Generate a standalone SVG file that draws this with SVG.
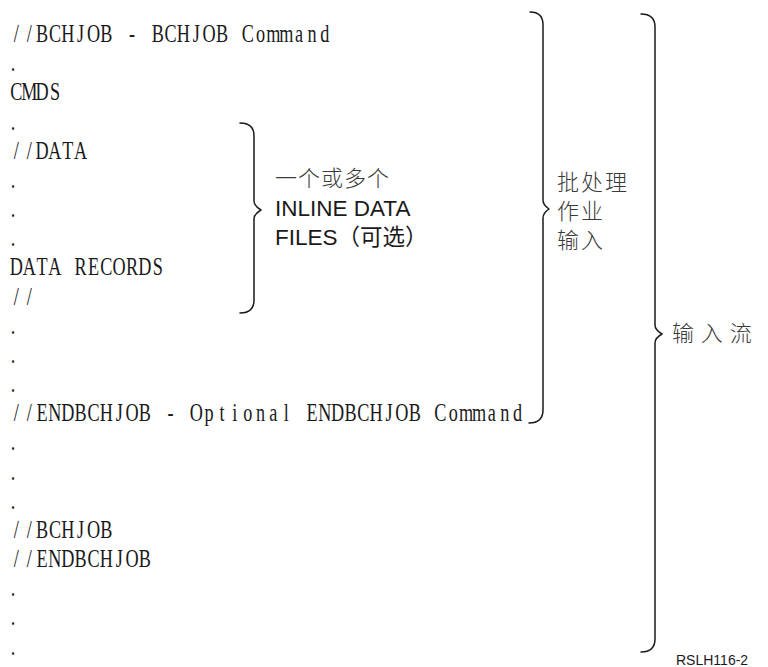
<svg xmlns="http://www.w3.org/2000/svg" width="768" height="667" viewBox="0 0 768 667">
  <style>
    .m { font-family: "Liberation Serif", "DejaVu Serif", serif; font-size: 26px; fill: #1a1a1a; text-anchor: middle; }
    .cn { font-family: "Noto Sans CJK SC", "Liberation Sans", sans-serif; font-size: 22px; font-weight: 300; fill: #3a3a3a; }
    .lat { font-family: "Liberation Sans", "Noto Sans CJK SC", sans-serif; font-size: 22.5px; fill: #1a1a1a; }
    .brace { fill: none; stroke: #1a1a1a; stroke-width: 1.5; stroke-linecap: round; stroke-linejoin: round; }
    .code { font-family: "Liberation Sans", "Noto Sans CJK SC", sans-serif; font-size: 14px; fill: #1a1a1a; }
  </style>
  <rect width="768" height="667" fill="#ffffff"/>

  <!-- job stream listing: fixed-pitch cells, glyphs narrowed to half width -->
  <g id="listing" transform="scale(0.7 1)">
    <text class="m" y="42" x="23.43 41.79 60.14 78.50 96.86 115.21 133.57 151.93 170.29 188.64 207.00 225.36 243.71 262.07 280.43 298.79 317.14 335.50 353.86 372.21 390.57 408.93 427.29 445.64 464.00">//BCHJOB - BCHJOB Command</text>
    <text class="m" y="71.17" x="18.57">.</text>
    <text class="m" y="100.34" x="23.43 41.79 60.14 78.50">CMDS</text>
    <text class="m" y="129.51" x="18.57">.</text>
    <text class="m" y="158.68" x="23.43 41.79 60.14 78.50 96.86 115.21">//DATA</text>
    <text class="m" y="187.85" x="18.57">.</text>
    <text class="m" y="217.02" x="18.57">.</text>
    <text class="m" y="246.19" x="18.57">.</text>
    <text class="m" y="275.36" x="23.43 41.79 60.14 78.50 96.86 115.21 133.57 151.93 170.29 188.64 207.00 225.36">DATA RECORDS</text>
    <text class="m" y="304.53" x="23.43 41.79">//</text>
    <text class="m" y="333.7" x="18.57">.</text>
    <text class="m" y="362.87" x="18.57">.</text>
    <text class="m" y="392.04" x="18.57">.</text>
    <text class="m" y="421.21" x="23.43 41.79 60.14 78.50 96.86 115.21 133.57 151.93 170.29 188.64 207.00 225.36 243.71 262.07 280.43 298.79 317.14 335.50 353.86 372.21 390.57 408.93 427.29 445.64 464.00 482.36 500.71 519.07 537.43 555.79 574.14 592.50 610.86 629.21 647.57 665.93 684.29 702.64 721.00 739.36">//ENDBCHJOB - Optional ENDBCHJOB Command</text>
    <text class="m" y="450.38" x="18.57">.</text>
    <text class="m" y="479.55" x="18.57">.</text>
    <text class="m" y="508.72" x="18.57">.</text>
    <text class="m" y="537.89" x="23.43 41.79 60.14 78.50 96.86 115.21 133.57 151.93">//BCHJOB</text>
    <text class="m" y="567.06" x="23.43 41.79 60.14 78.50 96.86 115.21 133.57 151.93 170.29 188.64 207.00">//ENDBCHJOB</text>
    <text class="m" y="596.23" x="18.57">.</text>
    <text class="m" y="625.4" x="18.57">.</text>
    <text class="m" y="654.57" x="18.57">.</text>
  </g>

  <!-- braces -->
  <g id="connectors">
    <path class="brace" d="M 240 123 Q 254 123 254 136 L 254 201 Q 254 206 261 210 Q 254 214 254 219 L 254 300 Q 254 313 240 313"/>
    <path class="brace" d="M 530 12 Q 543 12 543 25 L 543 200 Q 543 205 549 209 Q 543 213 543 218 L 543 410 Q 543 423 529 423"/>
    <path class="brace" d="M 641 14 Q 655 14 655 27 L 655 325 Q 655 330 662 334 Q 655 338 655 343 L 655 639 Q 655 652 641 652"/>
  </g>

  <g id="inline-data-label">
    <text class="cn" x="275" y="186" letter-spacing="1">一个或多个</text>
    <text class="lat" x="275" y="216">INLINE DATA</text>
    <text class="lat" x="275" y="245">FILES（可选）</text>
  </g>

  <g id="batch-job-label">
    <text class="cn" x="557" y="190" letter-spacing="2">批处理</text>
    <text class="cn" x="557" y="219" letter-spacing="2">作业</text>
    <text class="cn" x="557" y="248" letter-spacing="2">输入</text>
  </g>

  <g id="input-stream-label">
    <text class="cn" x="672" y="341" letter-spacing="1">输 入 流</text>
  </g>

  <text class="code" x="676" y="665">RSLH116-2</text>
</svg>
